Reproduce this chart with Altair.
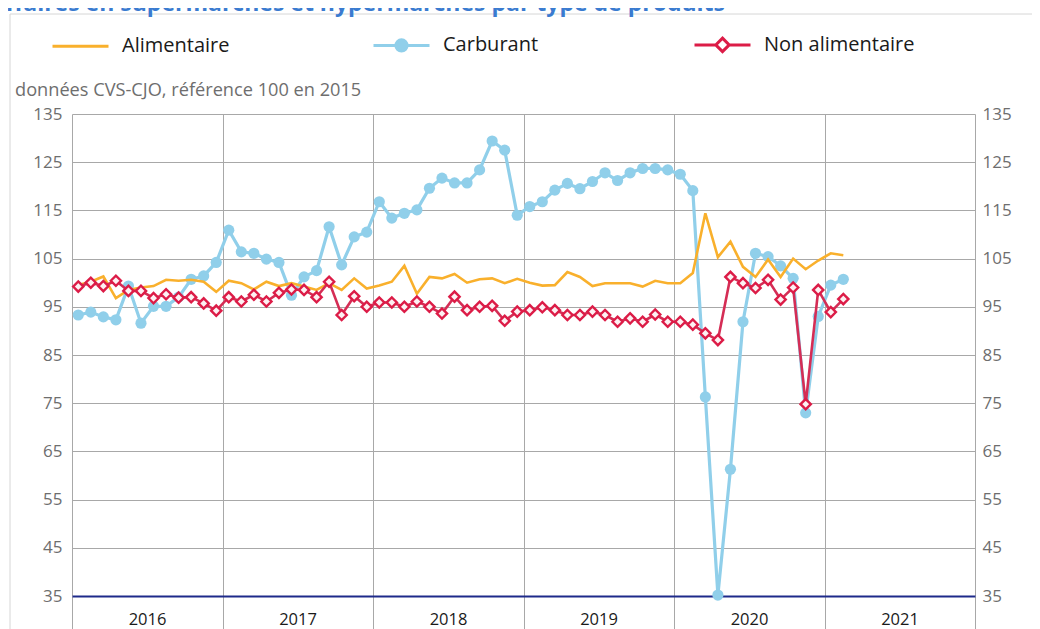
import altair as alt
import pandas as pd

titre = "Chiffre d'affaires en supermarchés et hypermarchés par type de produits"
sous_titre = "données CVS-CJO, référence 100 en 2015"
series = ["Alimentaire", "Carburant", "Non alimentaire"]
annees = ["2016", "2017", "2018", "2019", "2020", "2021"]
graduations_y = [35, 45, 55, 65, 75, 85, 95, 105, 115, 125, 135]

# monthly values, Jan 2016 -> Feb 2021
alimentaire = [99.5, 100.2, 101.3, 96.8, 98.5, 99.0, 99.3, 100.6, 100.4, 100.6, 100.2, 98.1,
               100.4, 99.9, 98.6, 100.2, 99.3, 99.9, 99.2, 98.5, 99.9, 98.5, 100.9, 98.8,
               99.4, 100.2, 103.5, 97.7, 101.2, 100.9, 101.8, 100.0, 100.7, 100.9, 99.9, 100.8,
               100.0, 99.4, 99.5, 102.2, 101.2, 99.3, 99.9, 99.9, 99.9, 99.2, 100.4, 99.9,
               99.9, 102.0, 114.4, 105.3, 108.5, 103.3, 101.2, 104.8, 101.2, 105.0, 102.8, 104.6,
               106.1, 105.7]
carburant = [93.3, 93.9, 92.9, 92.3, 99.3, 91.6, 95.1, 95.1, 97.0, 100.7, 101.4, 104.2,
             110.9, 106.4, 106.1, 104.9, 104.2, 97.4, 101.2, 102.5, 111.6, 103.7, 109.5, 110.5,
             116.8, 113.4, 114.4, 115.1, 119.6, 121.7, 120.7, 120.7, 123.4, 129.4, 127.5, 114.0,
             115.8, 116.8, 119.2, 120.6, 119.5, 121.0, 122.8, 121.2, 122.8, 123.7, 123.7, 123.4,
             122.5, 119.1, 76.3, 35.2, 61.3, 91.9, 106.1, 105.4, 103.5, 100.9, 73.0, 93.0,
             99.5, 100.7]
non_alimentaire = [99.2, 100.0, 99.3, 100.4, 98.3, 98.3, 96.8, 97.6, 96.9, 97.0, 95.7, 94.2,
                   97.0, 96.1, 97.5, 96.1, 97.9, 98.6, 98.5, 97.0, 100.2, 93.3, 97.2, 95.0,
                   95.9, 95.9, 95.0, 96.1, 95.0, 93.6, 97.1, 94.3, 95.0, 95.2, 92.1, 94.0,
                   94.3, 94.9, 94.3, 93.3, 93.3, 94.0, 93.3, 91.9, 92.6, 91.9, 93.4, 91.9,
                   91.9, 91.3, 89.5, 88.1, 101.2, 99.9, 98.9, 100.6, 96.5, 99.0, 74.8, 98.5,
                   93.9, 96.6]

ORANGE = "#f9b02c"
BLUE = "#90cfea"
RED = "#dc1c47"
RED_LINE = "#d52d55"
GRID = "#a8a8a8"
NAVY = "#1e2a8a"
FONT = "Open Sans"

rows = []
for nom, vals in zip(series, [alimentaire, carburant, non_alimentaire]):
    for i, v in enumerate(vals):
        rows.append({"m": i + 0.5, "valeur": v, "serie": nom})
df = pd.DataFrame(rows)

n_mois = 12 * len(annees)
label_list = annees + [""]
label_expr = "[" + ",".join("'" + a + "'" for a in label_list) + "][round(datum.value / 12)]"

x_enc = alt.X(
    "m:Q",
    scale=alt.Scale(domain=[0, n_mois], nice=False, zero=False),
    axis=alt.Axis(
        values=list(range(0, n_mois + 1, 12)), grid=True, gridColor=GRID, gridWidth=1,
        ticks=True, tickSize=33, tickColor=GRID, tickWidth=1,
        domain=True, domainColor=NAVY, domainWidth=2,
        labelExpr=label_expr, labelOffset=75, labelPadding=-10, labelBaseline="middle",
        labelFlush=False, labelOverlap=False, labelBound=False,
        labelFontSize=16.5, labelColor="#1a1a1a", labelFont=FONT, title=None,
    ),
)
yscale = alt.Scale(domain=[35, 135], nice=False, zero=False)
y_left = alt.Y(
    "valeur:Q", scale=yscale,
    axis=alt.Axis(
        values=graduations_y, grid=True,
        gridColor={"condition": {"test": "datum.value === 35", "value": "transparent"}, "value": GRID},
        ticks=False, domain=False, labelPadding=10, labelFontSize=17,
        labelColor="#6e6e6e", labelFont=FONT, title=None,
    ),
)
y_right = alt.Y(
    "valeur:Q", scale=yscale,
    axis=alt.Axis(
        orient="right", values=graduations_y, grid=False, ticks=False, domain=False,
        labelPadding=7, labelFontSize=17, labelColor="#6e6e6e", labelFont=FONT, title=None,
    ),
)
y_none = alt.Y("valeur:Q", scale=yscale, axis=None)

base = alt.Chart(df)

cadre = alt.Chart(pd.DataFrame({"a": [0]})).mark_rect(
    fill="transparent", stroke="#d6d6d6", strokeWidth=1
).encode(x=alt.value(-62), x2=alt.value(1200), y=alt.value(-100), y2=alt.value(800))

titre_l = alt.Chart(pd.DataFrame({"t": [titre]})).mark_text(
    align="right", baseline="alphabetic", font=FONT, fontSize=23, fontWeight="bold", color="#3a7bd0"
).encode(x=alt.value(653), y=alt.value(-103), text="t:N")

sous_titre_l = alt.Chart(pd.DataFrame({"t": [sous_titre]})).mark_text(
    align="left", baseline="middle", font=FONT, fontSize=18.2, color="#6e6e6e"
).encode(x=alt.value(-57), y=alt.value(-23), text="t:N")

carb = base.transform_filter(alt.datum.serie == "Carburant")
carb_line = carb.mark_line(color=BLUE, strokeWidth=3.2).encode(x=x_enc, y=y_left)
carb_pts = carb.mark_circle(color=BLUE, size=125, opacity=1).encode(x=x_enc, y=y_none)

alim_line = base.transform_filter(alt.datum.serie == "Alimentaire").mark_line(
    color=ORANGE, strokeWidth=2.6).encode(x=x_enc, y=y_none)

nonal = base.transform_filter(alt.datum.serie == "Non alimentaire")
nonal_line = nonal.mark_line(color=RED_LINE, strokeWidth=2.6).encode(x=x_enc, y=y_none)
nonal_pts = nonal.mark_point(shape="diamond", filled=True, fill="#fdf1f3", stroke=RED,
                             strokeWidth=2.4, size=105, opacity=1).encode(x=x_enc, y=y_none)

paths = [
    "M-1,0L1,0",
    "M-1,0L1,0M0.2,0A0.2,0.2,0,1,1,-0.2,0A0.2,0.2,0,1,1,0.2,0Z",
    "M-1,0L-0.24,0M0.24,0L1,0M0,-0.24L0.24,0L0,0.24L-0.24,0Z",
]
leg = alt.Legend(
    orient="none", legendX=-21, legendY=-99, direction="horizontal", title=None,
    labelFont=FONT, labelFontSize=20, labelColor="#1a1a1a", labelOffset=12, labelLimit=400,
    symbolSize=3136, symbolStrokeWidth=3, columnPadding=94, gridAlign="all", padding=0,
    symbolOpacity=1,
)
legende = base.transform_filter("false").mark_point(strokeWidth=3, opacity=1).encode(
    x=x_enc, y=y_right,
    stroke=alt.Stroke("serie:N", scale=alt.Scale(domain=series, range=[ORANGE, BLUE, RED]), legend=leg),
    fill=alt.Fill("serie:N", scale=alt.Scale(domain=series, range=["#ffffff", BLUE, "#ffffff"]), legend=leg),
    shape=alt.Shape("serie:N", scale=alt.Scale(domain=series, range=paths), legend=leg),
)

chart = alt.layer(
    cadre, titre_l, sous_titre_l, carb_line, carb_pts, alim_line, nonal_line, nonal_pts, legende
).resolve_scale(y="independent").properties(
    width=903, height=482,
    padding={"left": 64, "top": 106, "right": 57, "bottom": 33},
    autosize=alt.AutoSizeParams(type="none"),
    background="white",
).configure_view(stroke=None)

chart.save("out.html", embed_options={"renderer": "svg", "actions": False})
